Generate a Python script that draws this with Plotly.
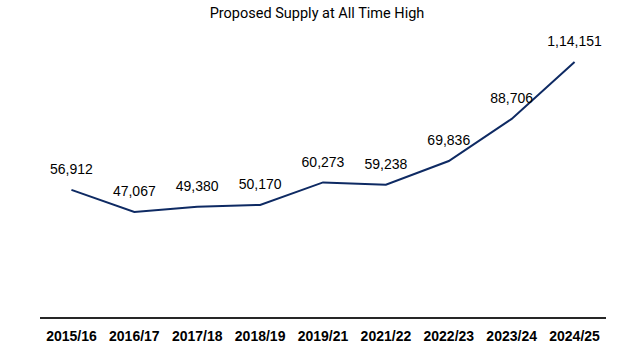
import plotly.graph_objects as go

years = ["2015/16", "2016/17", "2017/18", "2018/19", "2019/21", "2021/22", "2022/23", "2023/24", "2024/25"]
supply = [56912, 47067, 49380, 50170, 60273, 59238, 69836, 88706, 114151]
labels = ["56,912", "47,067", "49,380", "50,170", "60,273", "59,238", "69,836", "88,706", "1,14,151"]

fig = go.Figure()
fig.add_trace(go.Scatter(
    x=years, y=supply, mode="lines+markers+text", text=labels,
    textposition="top center",
    textfont=dict(family="Liberation Sans, Arial", size=14, color="#000000"),
    line=dict(color="#0E2A63", width=2),
    marker=dict(size=18, opacity=0),
    cliponaxis=False, hoverinfo="skip",
))
fig.update_layout(
    width=633, height=362,
    margin=dict(l=40, r=27, t=49, b=45),
    paper_bgcolor="white", plot_bgcolor="white",
    showlegend=False,
    title=dict(text="Proposed Supply at All Time High", x=317 / 633, xanchor="center",
               y=1 - 13/362, yanchor="middle",
               font=dict(family="Roboto, sans-serif", size=14.5, color="#000000")),
    xaxis=dict(showline=True, linecolor="#262626", linewidth=2, showgrid=False, ticks="",
               range=[-0.5, len(years) - 0.5],
               tickfont=dict(family="Liberation Sans Narrow, Arial Narrow, sans-serif", size=14, color="#000000", weight="bold"),
               ticklabelstandoff=5),
    yaxis=dict(range=[0, 120000], visible=False, showgrid=False, zeroline=False),
)
fig.write_html("out.html", config={"displayModeBar": False},
               post_script="document.body.style.margin='0';")
